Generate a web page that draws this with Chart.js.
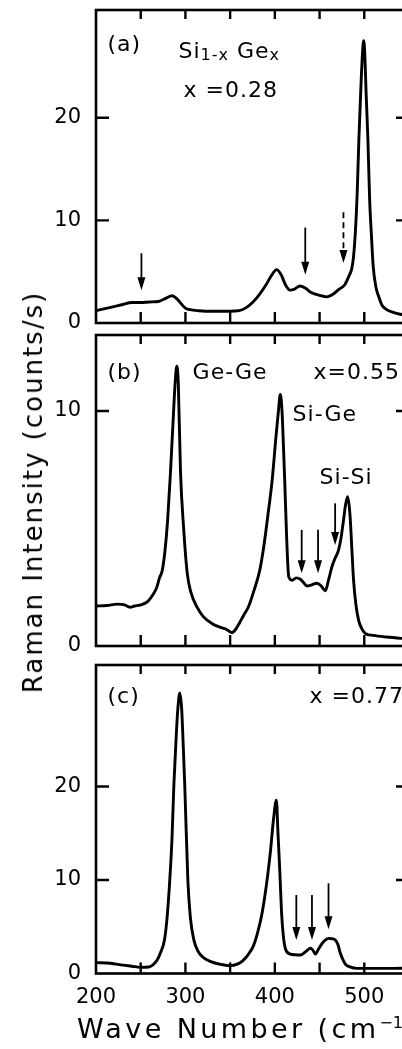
<!DOCTYPE html>
<html>
<head>
<meta charset="utf-8">
<script src="https://cdn.jsdelivr.net/npm/chart.js@4.4.1/dist/chart.umd.min.js"></script>
<style>
  html, body { margin: 0; padding: 0; background: #fff; overflow: hidden; }
  body { width: 402px; height: 1049px; position: relative; }
  canvas { position: absolute; left: 0; }
  #ytitle {
    position: absolute; left: 33px; top: 492px;
    transform: translate(-50%, -50%) rotate(-90deg);
    white-space: nowrap; font: 26px "DejaVu Sans"; letter-spacing: 2px; color: #000;
  }
  #xtitle {
    position: absolute; left: 77px; top: 1014px;
    white-space: nowrap; font: 27px/30px "DejaVu Sans"; letter-spacing: 3.4px; color: #000;
  }
  #xtitle sup { font-size: 16px; letter-spacing: 0; vertical-align: 10px; line-height: 0; }
</style>
</head>
<body>
<canvas id="chartA" width="412" height="335" style="top:0px"></canvas>
<canvas id="chartB" width="412" height="331" style="top:325px"></canvas>
<canvas id="chartC" width="412" height="394" style="top:655px"></canvas>
<div id="ytitle">Raman Intensity (counts/s)</div>
<div id="xtitle">Wave Number (cm<sup>−1</sup>)</div>
<script>
// (a) x = 0.28
const waveA = [200,210,220,230,240,250,260,270,278,285,290,295,300,305,315,330,350,360,368,375,382,390,396,402,407,412,417,422,428,434,440,450,458,465,472,478,483,486,488,490,492,494,496,498,499.3,500.5,502,504,506,508,510,513,516,520,525,530,540,550];
const intensityA = [1.2,1.4,1.6,1.8,2.0,2.0,2.05,2.1,2.4,2.65,2.4,1.9,1.45,1.3,1.2,1.15,1.15,1.2,1.5,2.0,2.7,3.7,4.6,5.2,4.7,3.7,3.2,3.3,3.6,3.4,3.0,2.7,2.55,2.8,3.3,3.7,4.6,5.3,6.5,8.8,12.5,18,22.5,26.3,27.5,26.3,22.5,18,12,8.5,5.5,3.5,2.6,1.7,1.3,1.1,0.85,0.75];

// (b) x = 0.55
const waveB = [200,212,224,232,238,243,250,258,264,268,271,274,277,280,283,286,288.5,290.3,292,294.5,298,302,306,313,320,330,340,346,352,356,360,365,370.5,377,383,387.5,392,397,401,404,406.1,408,409.5,411,413,415.5,419.3,424,428.5,432,436,441,447,452,456.4,460,463.8,467,471.2,474,476.8,479,481.3,483,484.4,486,488,490.5,493.6,497,501,510,525,550];
const intensityB = [1.7,1.72,1.78,1.75,1.65,1.7,1.75,1.9,2.2,2.5,2.9,3.2,4.0,5.3,7.2,9.4,11.2,11.9,11.2,7.4,5.0,3.1,2.3,1.65,1.25,0.95,0.78,0.7,0.57,0.7,0.95,1.3,1.67,2.4,3.2,4.2,5.5,7.06,8.8,10.0,10.7,10.0,8.6,7.06,4.8,2.95,2.8,2.9,2.84,2.7,2.55,2.6,2.67,2.55,2.35,2.8,3.37,3.7,4.08,4.6,5.36,6.0,6.35,6.0,5.36,4.2,2.8,1.8,1.1,0.75,0.54,0.45,0.38,0.3];

// (c) x = 0.77
const waveC = [200,216,230,240,249.7,259,264,268.4,272,276.6,279.5,282.5,285,287,289.5,291.5,293.7,295.8,297.5,299.3,302.7,305.5,309.4,314,319,324.4,332,341,350.4,358,364,370,375.6,380.5,385.7,391.3,395,398.5,401.7,403.5,405.5,407.5,409.5,412,417.3,423,428.5,434,439.7,442.5,445.3,449,452.7,456,460,464,467.6,470.5,473.2,476,478.8,484,492,510,530,550];
const intensityC = [1.16,1.1,0.9,0.78,0.66,0.7,0.95,1.44,2.2,3.6,6.0,10.0,14.5,20,25,28.3,30.0,28.3,24.5,20,10.0,6.0,3.6,2.4,1.8,1.44,1.15,0.95,0.84,1.0,1.35,2.0,2.87,4.3,6.44,10.0,13.0,16.5,18.55,15,11,6.5,4.0,2.6,2.08,2.0,1.98,2.3,2.7,2.5,2.08,2.65,3.2,3.55,3.76,3.72,3.58,3.1,2.16,1.5,1.0,0.7,0.55,0.55,0.55,0.58];

// tick values
const xTickValues = [200, 250, 300, 350, 400, 450, 500, 550];
const xTickLabels = [200, 300, 400, 500];
const yTicksA = [0, 10, 20];
const yTicksB = [0, 10];
const yTicksC = [0, 10, 20];

// arrows: wave number, tail and tip intensity
const arrowWaveA = [250.8, 434, 476.7];
const arrowTopA = [6.8, 9.3, 10.8];
const arrowTipA = [3.2, 4.7, 5.85];
const arrowDashA = [false, false, true];

const arrowWaveB = [430, 448.3, 467.4];
const arrowTopB = [4.94, 4.94, 6.07];
const arrowTipB = [3.09, 3.09, 4.3];

const arrowWaveC = [424, 441.5, 460];
const arrowTopC = [8.4, 8.4, 9.65];
const arrowTipC = [3.58, 3.58, 4.73];

const CANVAS_W = 412, PAD_TOP = 10, PAD_RIGHT = 3, Y_AXIS_W = 96;

Chart.defaults.font.family = '"DejaVu Sans", sans-serif';
Chart.defaults.color = '#000';

function zip(xs, ys) {
  return xs.map((x, i) => ({ x: x, y: ys[i] }));
}

// inward tick marks on all four sides, as a gapped line dataset
function tickMarks(yMax, yTicks, canvasH, xHeight) {
  const xMin = xTickValues[0], xMax = xTickValues[xTickValues.length - 1];
  const plotW = CANVAS_W - PAD_RIGHT - Y_AXIS_W;
  const plotH = canvasH - PAD_TOP - xHeight;
  const bottomLen = 11 * yMax / plotH, topLen = 9 * yMax / plotH;
  const sideLen = 13 * (xMax - xMin) / plotW;
  const pts = [];
  xTickValues.forEach(v => {
    if (v <= xMin || v >= xMax) return;
    pts.push({ x: v, y: 0 }, { x: v, y: bottomLen }, { x: v, y: null });
    pts.push({ x: v, y: yMax }, { x: v, y: yMax - topLen }, { x: v, y: null });
  });
  yTicks.forEach(v => {
    if (v <= 0 || v >= yMax) return;
    pts.push({ x: xMin, y: v }, { x: xMin + sideLen, y: v }, { x: xMin + sideLen, y: null });
    pts.push({ x: xMax, y: v }, { x: xMax - sideLen, y: v }, { x: xMax - sideLen, y: null });
  });
  return pts;
}

function panelPlugin(arrows, labels) {
  return {
    id: 'panel',
    afterDatasetsDraw(chart) {
      const ctx = chart.ctx;
      const xs = chart.scales.x, ys = chart.scales.y;
      const L = xs.getPixelForValue(xs.min), R = xs.getPixelForValue(xs.max);
      const B = ys.getPixelForValue(ys.min), T = ys.getPixelForValue(ys.max);
      ctx.save();
      ctx.strokeStyle = '#000';
      ctx.fillStyle = '#000';
      ctx.setLineDash([]);

      // frame
      ctx.lineWidth = 2.6;
      ctx.strokeRect(L, T, R - L, B - T);

      // arrows
      arrows.forEach(ar => {
        const px = xs.getPixelForValue(ar.x);
        const top = ys.getPixelForValue(ar.top);
        const tip = ys.getPixelForValue(ar.tip);
        ctx.lineWidth = 1.8;
        ctx.setLineDash(ar.dash ? [6, 4] : []);
        ctx.beginPath();
        ctx.moveTo(px, top); ctx.lineTo(px, tip - 10);
        ctx.stroke();
        ctx.setLineDash([]);
        ctx.beginPath();
        ctx.moveTo(px - 4, tip - 13);
        ctx.lineTo(px + 4, tip - 13);
        ctx.lineTo(px, tip);
        ctx.closePath();
        ctx.fill();
      });

      // labels
      ctx.textBaseline = 'middle';
      ctx.textAlign = 'left';
      if ('letterSpacing' in ctx) ctx.letterSpacing = '1px';
      labels.forEach(l => {
        let px = xs.getPixelForValue(l.x);
        const py = ys.getPixelForValue(l.y);
        l.parts.forEach(p => {
          ctx.font = (p.sub ? '16px' : '22px') + ' "DejaVu Sans"';
          ctx.fillText(p.t, px, py + (p.sub ? 4 : 0));
          px += ctx.measureText(p.t).width;
        });
      });
      ctx.restore();
    }
  };
}

function makePanel(id, wave, intensity, yMax, yTicks, opts) {
  const canvas = document.getElementById(id);
  return new Chart(canvas, {
    type: 'line',
    data: {
      datasets: [{
        data: zip(wave, intensity),
        borderColor: '#000',
        borderWidth: 2.9,
        pointRadius: 0,
        fill: false,
        cubicInterpolationMode: 'monotone'
      }, {
        data: tickMarks(yMax, yTicks, canvas.height, opts.xHeight),
        borderColor: '#000',
        borderWidth: 2.4,
        borderCapStyle: 'butt',
        pointRadius: 0,
        fill: false,
        tension: 0,
        spanGaps: false
      }]
    },
    options: {
      responsive: false,
      animation: false,
      events: [],
      layout: { padding: { top: PAD_TOP, right: PAD_RIGHT, left: 0, bottom: 0 } },
      plugins: { legend: { display: false }, tooltip: { enabled: false } },
      scales: {
        x: {
          type: 'linear',
          min: xTickValues[0], max: xTickValues[xTickValues.length - 1],
          grid: { display: false },
          border: { display: false },
          afterBuildTicks: s => { s.ticks = xTickValues.map(v => ({ value: v })); },
          ticks: {
            display: opts.showX,
            autoSkip: false,
            maxRotation: 0,
            padding: 3,
            font: { size: 21 },
            callback: v => (xTickLabels.includes(v) ? String(v) : '')
          },
          afterFit: s => { s.height = opts.xHeight; s.paddingLeft = 0; s.paddingRight = 0; }
        },
        y: {
          min: 0, max: yMax,
          grid: { display: false },
          border: { display: false },
          afterBuildTicks: s => { s.ticks = yTicks.map(v => ({ value: v })); },
          ticks: {
            padding: 7,
            font: { size: 21 }
          },
          afterFit: s => { s.width = Y_AXIS_W; s.paddingTop = 0; s.paddingBottom = 0; }
        }
      }
    },
    plugins: [panelPlugin(opts.arrows, opts.labels)]
  });
}

function arrowList(ws, tops, tips, dashes) {
  return ws.map((w, i) => ({ x: w, top: tops[i], tip: tips[i], dash: dashes ? dashes[i] : false }));
}

makePanel('chartA', waveA, intensityA, 30.5, yTicksA, {
  showX: false, xHeight: 12,
  arrows: arrowList(arrowWaveA, arrowTopA, arrowTipA, arrowDashA),
  labels: [
    { x: 212.9, y: 27.1, parts: [{ t: '(a)' }] },
    { x: 292.3, y: 26.4, parts: [{ t: 'Si' }, { t: '1-x', sub: true }, { t: ' Ge' }, { t: 'x', sub: true }] },
    { x: 297.9, y: 22.6, parts: [{ t: 'x =0.28' }] }
  ]
});

makePanel('chartB', waveB, intensityB, 13.23, yTicksB, {
  showX: false, xHeight: 10,
  arrows: arrowList(arrowWaveB, arrowTopB, arrowTipB),
  labels: [
    { x: 212.9, y: 11.6, parts: [{ t: '(b)' }] },
    { x: 308, y: 11.6, parts: [{ t: 'Ge-Ge' }] },
    { x: 443.3, y: 11.6, parts: [{ t: 'x=0.55' }] },
    { x: 419.8, y: 9.8, parts: [{ t: 'Si-Ge' }] },
    { x: 450, y: 7.15, parts: [{ t: 'Si-Si' }] }
  ]
});

makePanel('chartC', waveC, intensityC, 33, yTicksC, {
  showX: true, xHeight: 75.5,
  arrows: arrowList(arrowWaveC, arrowTopC, arrowTipC),
  labels: [
    { x: 212.9, y: 29.5, parts: [{ t: '(c)' }] },
    { x: 438.8, y: 29.5, parts: [{ t: 'x =0.77' }] }
  ]
});
</script>
</body>
</html>
